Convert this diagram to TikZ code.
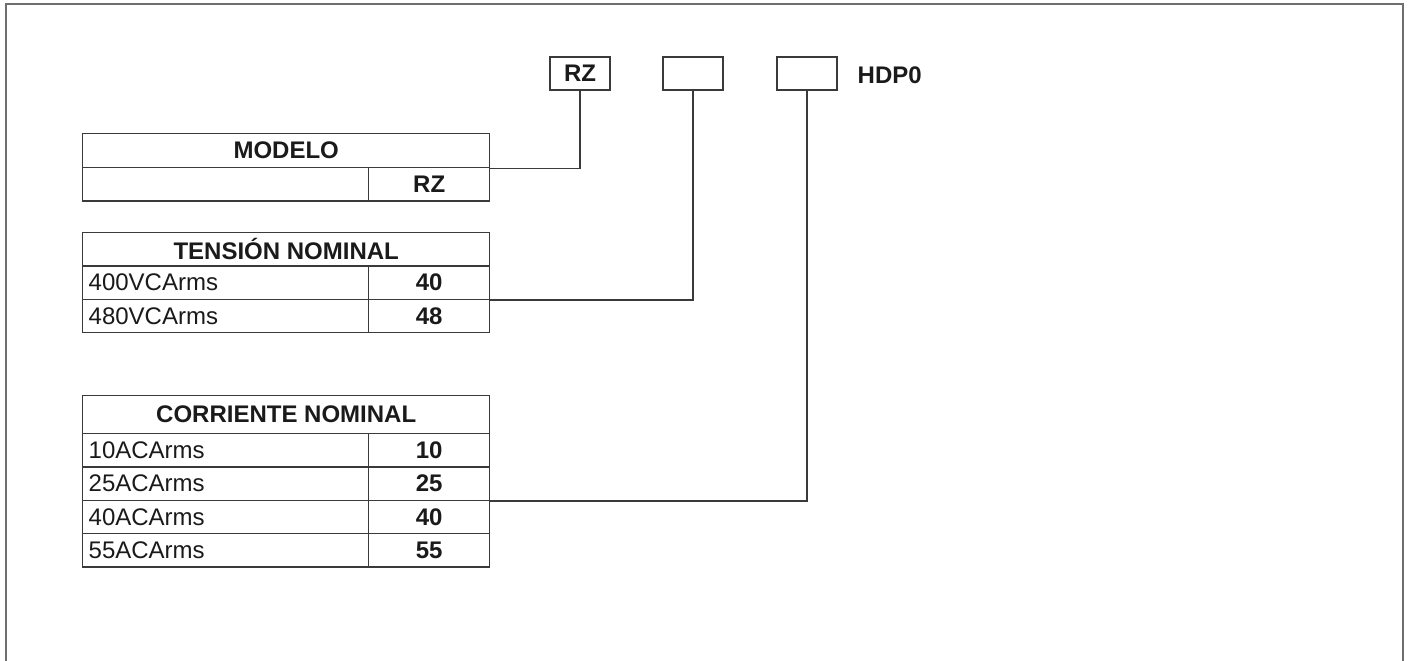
\documentclass[tikz,border=0pt]{standalone}
\usepackage{fontspec}
\setmainfont{Liberation Sans}
\usetikzlibrary{positioning}
\definecolor{cline}{HTML}{3A3A3A}
\definecolor{cframe}{HTML}{6E6E6E}
\definecolor{ctext}{HTML}{1A1A1A}
\newcommand{\tabfont}{\fontsize{24}{28}\selectfont}
\tikzset{
  every picture/.style={font=\tabfont, line width=1.4pt, text=ctext},
  tabcell/.style={draw=cline, anchor=north west, inner sep=0pt, minimum height=33.3pt},
  headcell/.style={tabcell, minimum width=407pt, minimum height=34pt, font=\tabfont\bfseries},
  desccell/.style={tabcell, inner xsep=6pt, text width=274pt, align=left},
  valcell/.style={tabcell, minimum width=121pt, font=\tabfont\bfseries},
  slot/.style={draw=cline, minimum width=60pt, minimum height=33pt, inner sep=0pt, font=\tabfont\bfseries},
  link/.style={draw=cline, line width=1.4pt},
}

\begin{document}
\begin{tikzpicture}[x=1pt, y=-1pt]
  \useasboundingbox (0,0) rectangle (1411,661);
  \draw[cframe, line width=2pt] (6,661) -- (6,4) -- (1403,4) -- (1403,661);
  \node[slot] (smodelo) at (580,73.5) {RZ};
  \node[slot] (stension) at (693,73.5) {};
  \node[slot] (scorriente) at (807,73.5) {};
  \node[anchor=west, inner sep=0pt, font=\tabfont\bfseries] (sufijo) at (857,75) {HDP0};
  \node[headcell] (modelo) at (82,133) {MODELO};
  \node[desccell] (mvacio) at (82,167) {};
  \node[valcell] (mrz) at (368,167) {RZ};
  \node[headcell, minimum height=33.3pt] (tension) at (82,232) {TENSIÓN NOMINAL};
  \foreach \txt/\val/\y in {400VCArms/40/265.3, 480VCArms/48/298.6} {
    \node[desccell] (t\val) at (82,\y) {\txt};
    \node[valcell] (tv\val) at (368,\y) {\val};
  }
  \node[headcell, minimum height=38pt] (corriente) at (82,395) {CORRIENTE NOMINAL};
  \foreach \txt/\val/\y in {10ACArms/10/433, 25ACArms/25/466.3, 40ACArms/40/499.6, 55ACArms/55/532.9} {
    \node[desccell] (c\val) at (82,\y) {\txt};
    \node[valcell] (cv\val) at (368,\y) {\val};
  }
  \draw[link] (smodelo.south) |- (modelo.south east);
  \draw[link] (stension.south) |- (tv40.south east);
  \draw[link] (scorriente.south) |- (cv25.south east);
\end{tikzpicture}
\end{document}
